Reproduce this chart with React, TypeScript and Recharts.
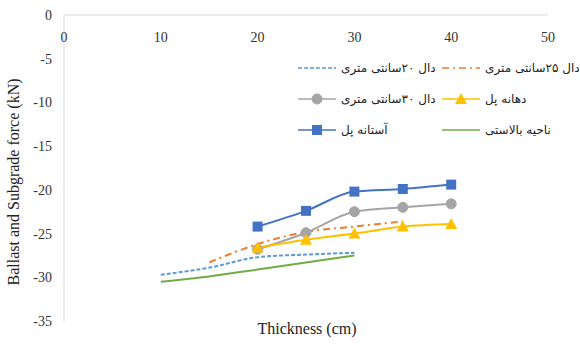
import React from "react";
import { LineChart, Line, XAxis, YAxis } from "recharts";

const thickness = [10, 15, 20, 25, 30, 35, 40];

const slab20 = [-29.7, -28.9, -27.7, -27.4, -27.2, null, null];
const slab25 = [null, -28.3, -26.2, -24.8, -24.2, -23.6, null];
const slab30 = [null, null, -26.8, -24.9, -22.5, -22.0, -21.6];
const bridgeMouth = [null, null, -26.6, -25.7, -25.0, -24.2, -23.9];
const bridgeThreshold = [null, null, -24.2, -22.4, -20.2, -19.9, -19.4];
const ballastZone = [-30.5, -29.9, -29.1, -28.3, -27.5, null, null];

const xTicks = [0, 10, 20, 30, 40, 50];
const yTicks = [0, -5, -10, -15, -20, -25, -30, -35];

const data = thickness.map((x, i) => ({
  x,
  slab20: slab20[i],
  slab25: slab25[i],
  slab30: slab30[i],
  bridgeMouth: bridgeMouth[i],
  bridgeThreshold: bridgeThreshold[i],
  ballastZone: ballastZone[i],
}));

type Marker = "none" | "circle" | "square" | "triangle";

interface SeriesDef {
  key: string;
  name: string;
  color: string;
  dash?: string;
  marker: Marker;
}

// legend order: row by row, left column first
const series: SeriesDef[] = [
  { key: "slab20", name: "دال ۲۰سانتی متری", color: "#5B9BD5", dash: "4 2", marker: "none" },
  { key: "slab25", name: "دال ۲۵سانتی متری", color: "#ED7D31", dash: "7 4 2 4", marker: "none" },
  { key: "slab30", name: "دال ۳۰سانتی متری", color: "#A5A5A5", marker: "circle" },
  { key: "bridgeMouth", name: "دهانه پل", color: "#FFC000", marker: "triangle" },
  { key: "bridgeThreshold", name: "آستانه پل", color: "#4472C4", marker: "square" },
  { key: "ballastZone", name: "ناحیه بالاستی", color: "#70AD47", marker: "none" },
];

const tickFont = { fontFamily: "'Liberation Serif', serif", fontSize: 14, fill: "#333" };

function MarkerShape({ cx, cy, marker, color }: { cx: number; cy: number; marker: Marker; color: string }) {
  if (cx == null || cy == null || marker === "none") return null;
  if (marker === "circle") return <circle cx={cx} cy={cy} r={5} fill={color} stroke={color} />;
  if (marker === "square") return <rect x={cx - 5} y={cy - 5} width={10} height={10} fill={color} />;
  return <polygon points={`${cx},${cy - 6} ${cx + 6},${cy + 5} ${cx - 6},${cy + 5}`} fill={color} />;
}

function LegendSample({ s }: { s: SeriesDef }) {
  return (
    <svg width={38} height={12} style={{ display: "block" }}>
      <line x1={0} y1={6} x2={38} y2={6} stroke={s.color} strokeWidth={1.5} strokeDasharray={s.dash} />
      <MarkerShape cx={19} cy={6} marker={s.marker} color={s.color} />
    </svg>
  );
}

function ChartLegend() {
  return (
    <div
      style={{
        position: "absolute",
        left: 298,
        top: 61,
        display: "grid",
        gridTemplateColumns: "144px 140px",
        rowGap: 17,
        fontFamily: "'DejaVu Sans', sans-serif",
        fontSize: 12,
        color: "#222",
      }}
    >
      {series.map((s) => (
        <div key={s.key} style={{ display: "flex", alignItems: "center", gap: 5, height: 14 }}>
          <LegendSample s={s} />
          <span dir="rtl" style={{ whiteSpace: "nowrap" }}>{s.name}</span>
        </div>
      ))}
    </div>
  );
}

export default function App() {
  return (
    <div style={{ position: "absolute", left: 0, top: 0, width: 580, height: 344, background: "#fff" }}>
      <LineChart width={580} height={344} data={data} margin={{ top: 14, right: 32, bottom: 23, left: 20 }}>
        <XAxis
          dataKey="x"
          type="number"
          orientation="top"
          domain={[0, 50]}
          ticks={xTicks}
          height={1}
          tickLine={false}
          axisLine={{ stroke: "#D9D9D9" }}
          tick={({ x, payload }: any) => (
            <text x={x} y={42} textAnchor="middle" {...tickFont}>
              {payload.value}
            </text>
          )}
        />
        <YAxis
          type="number"
          domain={[-35, 0]}
          ticks={yTicks}
          width={44}
          tickLine={false}
          tickMargin={6}
          axisLine={{ stroke: "#D9D9D9" }}
          tick={tickFont}
          label={() => (
            <text
              x={15}
              y={182}
              transform="rotate(-90 15 182)"
              textAnchor="middle"
              dominantBaseline="middle"
              fontFamily="'Liberation Serif', serif"
              fontSize={16}
              fill="#222"
            >
              Ballast and Subgrade force (kN)
            </text>
          )}
        />
        {series.map((s) => (
          <Line
            key={s.key}
            dataKey={s.key}
            name={s.name}
            type="monotone"
            stroke={s.color}
            strokeWidth={2}
            strokeDasharray={s.dash}
            isAnimationActive={false}
            dot={(p: any) => <MarkerShape key={`${s.key}-${p.index}`} cx={p.cx} cy={p.cy} marker={s.marker} color={s.color} />}
            activeDot={false}
          />
        ))}
      </LineChart>
      <ChartLegend />
      <div
        style={{
          position: "absolute",
          left: 0,
          width: 614,
          top: 320,
          textAlign: "center",
          fontFamily: "'Liberation Serif', serif",
          fontSize: 16,
          color: "#222",
        }}
      >
        Thickness (cm)
      </div>
    </div>
  );
}
